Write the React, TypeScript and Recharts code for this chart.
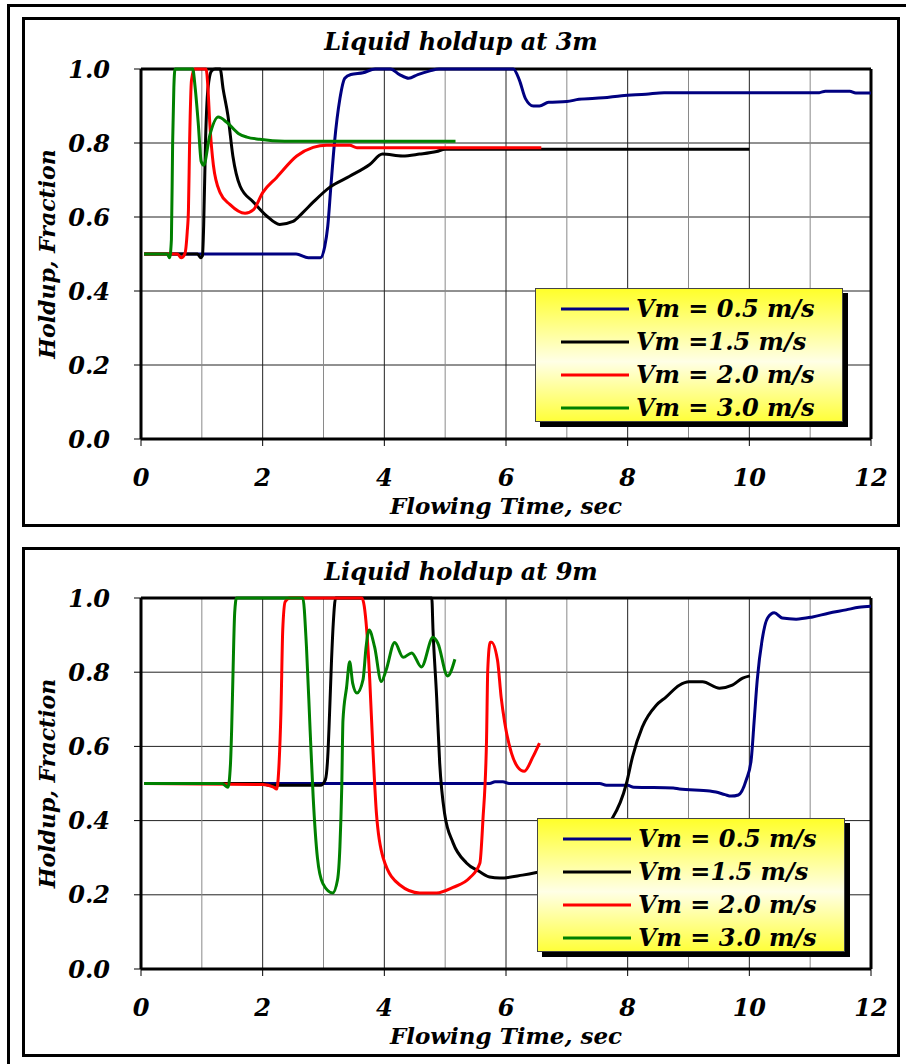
import React from "react";
import { LineChart, Line, XAxis, YAxis, CartesianGrid, ReferenceLine, Legend } from "recharts";

type Pt = [number, number];

const FONT = '"DejaVu Serif", serif';

const xTicks = [0, 2, 4, 6, 8, 10, 12];
const yTicks = [0, 0.2, 0.4, 0.6, 0.8, 1.0];
const secondLines = [1, 2, 3, 4, 5, 6, 7, 8, 9, 10, 11];

const seriesNames = ["Vm = 0.5 m/s", "Vm =1.5 m/s", "Vm = 2.0 m/s", "Vm = 3.0 m/s"];
const seriesColors = ["#000080", "#000000", "#ff0000", "#008000"];

// holdup at 3 m: [time s, holdup fraction]
const vm05At3m: Pt[] = [
  [0.05, 0.5], [2.55, 0.5], [2.75, 0.49], [2.95, 0.49], [3.02, 0.52], [3.07, 0.575], [3.12, 0.68],
  [3.18, 0.8], [3.27, 0.92], [3.35, 0.975], [3.45, 0.985], [3.65, 0.99], [3.85, 1.0], [4.1, 1.0],
  [4.25, 0.985], [4.4, 0.975], [4.55, 0.985], [4.75, 0.995], [4.9, 1.0], [6.12, 1.0], [6.22, 0.97],
  [6.32, 0.92], [6.45, 0.9], [6.55, 0.9], [6.7, 0.91], [7.0, 0.912], [7.2, 0.918], [7.6, 0.922],
  [7.9, 0.928], [8.3, 0.932], [8.6, 0.936], [11.15, 0.936], [11.25, 0.94], [11.65, 0.94],
  [11.75, 0.935], [12, 0.935],
];
const vm15At3m: Pt[] = [
  [0.05, 0.5], [0.93, 0.5], [0.98, 0.49], [1.01, 0.495], [1.03, 0.575], [1.06, 0.8], [1.1, 0.946],
  [1.16, 0.995], [1.22, 1.0], [1.3, 1.0], [1.35, 0.946], [1.43, 0.873], [1.51, 0.765], [1.63, 0.683],
  [1.85, 0.64], [2.07, 0.602], [2.28, 0.58], [2.5, 0.588], [2.66, 0.612], [2.83, 0.64], [3.1, 0.68],
  [3.43, 0.71], [3.76, 0.742], [3.97, 0.77], [4.3, 0.765], [4.58, 0.77], [4.86, 0.777], [5.0, 0.783],
  [10.0, 0.783],
];
const vm20At3m: Pt[] = [
  [0.05, 0.5], [0.6, 0.5], [0.66, 0.49], [0.72, 0.5], [0.76, 0.56], [0.78, 0.62], [0.8, 0.81],
  [0.83, 0.97], [0.88, 1.0], [1.07, 1.0], [1.1, 0.95], [1.13, 0.856], [1.19, 0.74], [1.3, 0.666],
  [1.46, 0.634], [1.71, 0.61], [1.85, 0.62], [2.0, 0.666], [2.23, 0.707], [2.56, 0.765], [2.83, 0.788],
  [3.05, 0.794], [3.43, 0.794], [3.55, 0.787], [6.58, 0.787],
];
const vm30At3m: Pt[] = [
  [0.05, 0.5], [0.43, 0.5], [0.47, 0.49], [0.5, 0.54], [0.52, 0.8], [0.54, 0.95], [0.56, 1.0],
  [0.85, 1.0], [0.89, 0.95], [0.94, 0.856], [0.99, 0.75], [1.03, 0.74], [1.13, 0.82], [1.27, 0.87],
  [1.41, 0.856], [1.6, 0.826], [1.74, 0.816], [1.95, 0.81], [2.36, 0.805], [5.17, 0.805],
];

// holdup at 9 m
const vm05At9m: Pt[] = [
  [0.05, 0.5], [5.73, 0.5], [5.82, 0.505], [5.95, 0.505], [6.05, 0.5], [7.54, 0.5], [7.65, 0.495],
  [8.0, 0.495], [8.1, 0.49], [8.75, 0.488], [8.85, 0.485], [9.35, 0.48], [9.45, 0.477], [9.6, 0.47],
  [9.7, 0.466], [9.82, 0.469], [9.95, 0.51], [10.03, 0.563], [10.08, 0.67], [10.13, 0.779],
  [10.21, 0.887], [10.3, 0.946], [10.41, 0.96], [10.54, 0.946], [10.77, 0.943], [11.04, 0.949],
  [11.3, 0.959], [11.59, 0.968], [11.8, 0.975], [12, 0.978],
];
const vm15At9m: Pt[] = [
  [0.05, 0.5], [2.0, 0.5], [2.1, 0.495], [2.95, 0.495], [3.03, 0.51], [3.07, 0.572], [3.1, 0.69],
  [3.13, 0.824], [3.16, 0.93], [3.2, 1.0], [4.78, 1.0], [4.8, 0.914], [4.86, 0.733], [4.91, 0.555],
  [4.99, 0.42], [5.13, 0.34], [5.35, 0.286], [5.57, 0.262], [5.73, 0.248], [5.9, 0.245], [6.27, 0.253],
  [6.5, 0.26], [7.0, 0.28], [7.3, 0.32], [7.6, 0.38], [7.75, 0.407], [7.98, 0.5], [8.08, 0.572],
  [8.24, 0.652], [8.47, 0.711], [8.63, 0.733], [8.85, 0.765], [9.01, 0.774], [9.23, 0.774],
  [9.51, 0.757], [9.72, 0.765], [9.89, 0.784], [10.01, 0.79],
];
const vm20At9m: Pt[] = [
  [0.05, 0.5], [2.0, 0.497], [2.18, 0.49], [2.23, 0.485], [2.27, 0.555], [2.3, 0.69], [2.33, 0.914],
  [2.37, 0.99], [2.45, 1.0], [3.63, 1.0], [3.71, 0.914], [3.76, 0.78], [3.81, 0.6], [3.87, 0.42],
  [3.98, 0.3], [4.25, 0.227], [4.58, 0.205], [4.86, 0.205], [5.13, 0.22], [5.4, 0.245], [5.57, 0.285],
  [5.62, 0.4], [5.68, 0.617], [5.7, 0.806], [5.74, 0.881], [5.76, 0.881], [5.86, 0.833], [5.92, 0.733],
  [5.98, 0.663], [6.09, 0.582], [6.19, 0.545], [6.3, 0.533], [6.44, 0.571], [6.55, 0.609],
];
const vm30At9m: Pt[] = [
  [0.05, 0.5], [1.33, 0.5], [1.43, 0.49], [1.47, 0.55], [1.49, 0.645], [1.51, 0.78], [1.54, 0.96],
  [1.57, 1.0], [2.66, 1.0], [2.72, 0.868], [2.78, 0.644], [2.83, 0.464], [2.9, 0.3], [2.99, 0.23],
  [3.15, 0.205], [3.23, 0.24], [3.27, 0.33], [3.3, 0.49], [3.32, 0.67], [3.38, 0.76], [3.43, 0.828],
  [3.48, 0.77], [3.55, 0.744], [3.65, 0.78], [3.7, 0.868], [3.75, 0.914], [3.84, 0.868], [3.95, 0.775],
  [4.03, 0.806], [4.17, 0.88], [4.31, 0.84], [4.45, 0.852], [4.61, 0.814], [4.8, 0.894], [4.88, 0.878],
  [5.04, 0.79], [5.16, 0.835],
];

const toRows = (pts: Pt[]) => pts.map(([t, h]) => ({ t, h }));

const textStyle = { fontFamily: FONT, fontWeight: 700, fontStyle: "italic" as const, fill: "#000" };

function HoldupLegend({ payload }: { payload?: Array<{ value: string; color: string }> }) {
  // keep the series order, not the alphabetical one
  const items = [...(payload || [])].sort(
    (a, b) => seriesNames.indexOf(a.value) - seriesNames.indexOf(b.value)
  );
  return (
    <div
      style={{
        width: 308,
        height: 134,
        boxSizing: "border-box",
        border: "1px solid #444",
        background: "linear-gradient(to bottom, #ffff2a 0%, #ffffe6 55%, #ffff3a 100%)",
        boxShadow: "5px 5px 0 #000",
        paddingTop: 3,
      }}
    >
      {items.map((item) => (
        <div key={item.value} style={{ display: "flex", alignItems: "center", height: 33 }}>
          <svg width={100} height={10} style={{ flex: "none" }}>
            <line x1={25} x2={93} y1={5} y2={5} stroke={item.color} strokeWidth={3} />
          </svg>
          <span
            style={{
              fontFamily: FONT,
              fontWeight: 700,
              fontStyle: "italic",
              fontSize: 24,
              whiteSpace: "pre",
              lineHeight: "33px",
            }}
          >
            {item.value}
          </span>
        </div>
      ))}
    </div>
  );
}

function HoldupChart({
  top,
  title,
  series,
  legendLeft,
  legendTop,
  plotTop,
}: {
  top: number;
  title: string;
  series: Pt[][];
  legendLeft: number;
  legendTop: number;
  plotTop: number;
}) {
  return (
    <>
      <div
        style={{
          position: "absolute",
          left: 22,
          top: top + 17,
          width: 878,
          height: 510,
          boxSizing: "border-box",
          border: "3px solid #000",
        }}
      />
      <div
        style={{
          position: "absolute",
          left: 22,
          width: 878,
          top: top + 27,
          textAlign: "center",
          fontFamily: FONT,
          fontWeight: 700,
          fontStyle: "italic",
          fontSize: 24,
          lineHeight: "30px",
        }}
      >
        {title}
      </div>
      <div style={{ position: "absolute", left: 0, top }}>
        <LineChart
          width={906}
          height={530}
          margin={{ top: plotTop, right: 35, left: 20, bottom: 11 }}
        >
          <CartesianGrid vertical={false} stroke="#222" strokeWidth={1} />
          {secondLines.map((s) => (
            <ReferenceLine
              key={s}
              x={s}
              stroke={s % 2 === 0 ? "#222" : "#8a8a8a"}
              strokeWidth={1}
            />
          ))}
          <XAxis
            type="number"
            dataKey="t"
            domain={[0, 12]}
            ticks={xTicks}
            interval={0}
            allowDataOverflow
            height={80}
            tickSize={7}
            tickMargin={23}
            axisLine={{ stroke: "#000", strokeWidth: 3 }}
            tickLine={{ stroke: "#000", strokeWidth: 1 }}
            tick={{ ...textStyle, fontSize: 24 }}
            label={{
              value: "Flowing Time, sec",
              position: "insideBottom",
              offset: 5,
              style: { ...textStyle, fontSize: 23 },
            }}
          />
          <YAxis
            type="number"
            domain={[0, 1]}
            ticks={yTicks}
            interval={0}
            width={121}
            tickSize={7}
            tickMargin={24}
            tickFormatter={(v: number) => v.toFixed(1)}
            axisLine={{ stroke: "#000", strokeWidth: 3 }}
            tickLine={{ stroke: "#000", strokeWidth: 1 }}
            tick={{ ...textStyle, fontSize: 24 }}
            label={{
              value: "Holdup, Fraction",
              angle: -90,
              position: "insideLeft",
              offset: 27,
              style: { ...textStyle, fontSize: 22, textAnchor: "middle" },
            }}
          />
          <ReferenceLine y={1} stroke="#000" strokeWidth={3} />
          <ReferenceLine x={12} stroke="#000" strokeWidth={3} />
          {series.map((pts, i) => (
            <Line
              key={seriesNames[i]}
              data={toRows(pts)}
              dataKey="h"
              name={seriesNames[i]}
              type="monotone"
              stroke={seriesColors[i]}
              strokeWidth={3}
              dot={false}
              activeDot={false}
              isAnimationActive={false}
            />
          ))}
          <Legend
            layout="vertical"
            align="center"
            verticalAlign="middle"
            wrapperStyle={{ left: legendLeft, top: legendTop, width: 308, height: 134 }}
            content={(props: any) => <HoldupLegend payload={props.payload} />}
          />
        </LineChart>
      </div>
    </>
  );
}

export default function App() {
  return (
    <div
      style={{
        position: "absolute",
        left: 0,
        top: 0,
        width: 906,
        height: 1064,
        background: "#fff",
        overflow: "hidden",
      }}
    >
      <div
        style={{
          position: "absolute",
          left: 7,
          top: 4,
          width: 940,
          height: 1100,
          boxSizing: "border-box",
          border: "3px solid #000",
        }}
      />
      <HoldupChart
        top={0}
        title="Liquid holdup at 3m"
        series={[vm05At3m, vm15At3m, vm20At3m, vm30At3m]}
        legendLeft={535}
        legendTop={288}
        plotTop={69}
      />
      <HoldupChart
        top={530}
        title="Liquid holdup at 9m"
        series={[vm05At9m, vm15At9m, vm20At9m, vm30At9m]}
        legendLeft={537}
        legendTop={288}
        plotTop={68}
      />
    </div>
  );
}
